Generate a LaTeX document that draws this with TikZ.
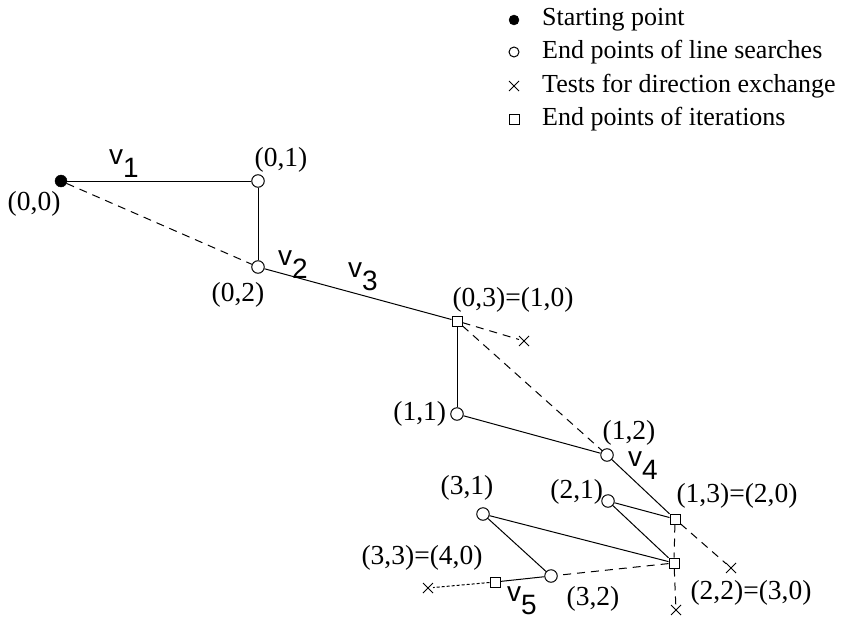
\documentclass[tikz,border=0pt]{standalone}
\usepackage{fontspec}
\setmainfont{Liberation Serif}
\setsansfont{Liberation Sans}
\usetikzlibrary{shapes.misc}

\begin{document}
\begin{tikzpicture}[
  x=1pt, y=-1pt,
  every node/.style={font=\fontsize{26}{30}\selectfont, inner sep=0pt},
  every label/.style={font=\fontsize{27.5}{30}\selectfont},
  start/.style={circle, draw, fill=black, minimum size=12pt},
  lsend/.style={circle, draw, line width=1pt, fill=white, minimum size=12.5pt},
  itend/.style={rectangle, draw, line width=1pt, fill=white, minimum size=10pt},
  xtest/.style={cross out, draw, line width=1pt, minimum size=9pt},
  walk/.style={line width=1pt},
  probe/.style={line width=1pt, dash pattern=on 8pt off 6pt},
  finer/.style={line width=1pt, dash pattern=on 3pt off 2pt},
  dirlabel/.style={font=\fontsize{28}{30}\sffamily},
]
  \useasboundingbox (0,0) rectangle (842,626);

  % legend
  \node[start, minimum size=10pt] (k1) at (514,20) {};
  \node[lsend, minimum size=10pt] (k2) at (514,52) {};
  \node[xtest] (k3) at (514,86) {};
  \node[itend] (k4) at (514,119) {};
  \node[anchor=west] (t1) at (542,20)  {Starting point};
  \node[anchor=west] (t2) at (542,52)  {End points of line searches};
  \node[anchor=west] (t3) at (542,86)  {Tests for direction exchange};
  \node[anchor=west] (t4) at (542,119) {End points of iterations};

  % iterates
  \node[start] (p00) at (61,181)  [label={[xshift=4pt, yshift=-6pt]below left:(0,0)}] {};
  \node[lsend] (p01) at (258,181) [label={[yshift=2pt, xshift=23pt]above:(0,1)}] {};
  \node[lsend] (p02) at (258,267) [label={[yshift=-8pt, xshift=-20pt]below:(0,2)}] {};
  \node[itend] (p03) at (457,321) [label={[yshift=3pt, xshift=56pt]above:(0,3)=(1,0)}] {};
  \node[lsend] (p11) at (457,414) [label={[xshift=-4pt]left:(1,1)}] {};
  \node[lsend] (p12) at (607,455) [label={[yshift=3pt, xshift=22pt]above:(1,2)}] {};
  \node[itend] (p13) at (675,519) [label={[yshift=5pt, xshift=62pt]above:(1,3)=(2,0)}] {};
  \node[lsend] (p21) at (608,501) [label={[xshift=2pt, yshift=9pt]left:(2,1)}] {};
  \node[lsend] (p31) at (483,514) [label={[yshift=7pt, xshift=-16pt]above:(3,1)}] {};
  \node[lsend] (p32) at (551,576) [label={[xshift=42pt, yshift=-3pt]below:(3,2)}] {};
  \node[itend] (p22) at (674,563) {};
  \node[itend] (p33) at (495,582) [label={[xshift=-73pt, yshift=6pt]above:(3,3)=(4,0)}] {};
  \node[font=\fontsize{27.5}{30}\selectfont] (l22) at (751,593) {(2,2)=(3,0)};

  % exchange tests
  \node[xtest] (x1) at (524,341) {};
  \node[xtest] (x2) at (731,568) {};
  \node[xtest] (x3) at (676,610) {};
  \node[xtest] (x4) at (428,588) {};

  % direction labels
  \node[dirlabel] (v1) at (124,164) {v\raisebox{-13pt}{1}};
  \node[dirlabel] (v2) at (293,265) {v\raisebox{-13pt}{2}};
  \node[dirlabel] (v3) at (363,277) {v\raisebox{-13pt}{3}};
  \node[dirlabel] (v4) at (643,466) {v\raisebox{-13pt}{4}};
  \node[dirlabel] (v5) at (522,601) {v\raisebox{-13pt}{5}};

  % line searches
  \draw[walk] (p00) -- (p01);
  \draw[walk] (p01) -- (p02);
  \draw[walk] (p02) -- (p03);
  \draw[walk] (p03) -- (p11);
  \draw[walk] (p11) -- (p12);
  \draw[walk] (p12) -- (p13);
  \draw[walk] (p13) -- (p21);
  \draw[walk] (p21) -- (p22);
  \draw[walk] (p22) -- (p31);
  \draw[walk] (p31) -- (p32);
  \draw[walk] (p32) -- (p33);

  % exchange directions
  \draw[probe] (p00) -- (p02);
  \draw[probe] (p03) -- (x1);
  \draw[probe] (p03) -- (p12);
  \draw[probe] (p13) -- (x2);
  \draw[probe] (p13) -- (p22);
  \draw[probe] (p22) -- (x3);
  \draw[probe] (p22) -- (p32);
  \draw[finer] (p33) -- (x4);
\end{tikzpicture}
\end{document}
